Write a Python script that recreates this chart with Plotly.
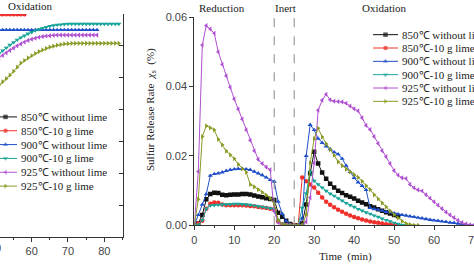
import plotly.graph_objects as go

W, H = 474, 265

# ---------------- data ----------------
series_names = ["850℃ without lime", "850℃-10 g lime", "900℃ without lime",
                "900℃-10 g lime", "925℃ without lime", "925℃-10 g lime"]

# right panel: sulfur release rate (%) sampled every minute from t = 0
rate_850 = [0, 0.0005, 0.003, 0.0075, 0.009, 0.0094, 0.0093, 0.0088, 0.0087, 0.0088, 0.0089,
            0.0089, 0.009, 0.009, 0.0089, 0.0086, 0.0083, 0.0081, 0.0078, 0.0076, 0.0073,
            0.0036, 0.0025, 0.0013, 0.0004, 0, 0,
            0.0005, 0.006, 0.015, 0.0212, 0.0178, 0.0152, 0.0134, 0.012, 0.0109, 0.0100,
            0.0093, 0.0087, 0.0082, 0.0077, 0.0071, 0.0066, 0.0061, 0.0055, 0.0051, 0.0046,
            0.0042, 0.0038, 0.0034, 0.003, 0.0027]
rate_850_lime = [0, 0.0005, 0.0013, 0.0048, 0.0062, 0.0066, 0.0065, 0.006, 0.0058, 0.0058, 0.0058,
                 0.0058, 0.0058, 0.0057, 0.0056, 0.0055, 0.0053, 0.0051, 0.005, 0.0048, 0.0046,
                 0.0012, 0.0003, 0.0001, 0, 0, 0,
                 0.0138, 0.0127, 0.0118, 0.0109, 0.0094, 0.0080, 0.0068, 0.0059, 0.0052, 0.0045,
                 0.0039, 0.0033, 0.0028, 0.0024, 0.0020, 0.0017, 0.0014, 0.0011, 0.0009, 0.0007,
                 0.0005, 0.0003, 0.0002, 0.0001, 0]
rate_900 = [0, 0.003, 0.006, 0.009, 0.0143, 0.0148, 0.015, 0.0153, 0.0157, 0.016, 0.0162,
            0.0163, 0.0163, 0.0162, 0.016, 0.0155, 0.015, 0.0145, 0.0138, 0.0131, 0.0126,
            0.0068, 0.0033, 0.0012, 0.0003, 0, 0,
            0.002, 0.02, 0.029, 0.0275, 0.025, 0.0238, 0.0228, 0.022, 0.0211, 0.0205,
            0.0192, 0.0172, 0.0154, 0.0137, 0.0124, 0.0114, 0.0102, 0.005, 0.0047, 0.0045,
            0.0042, 0.0039, 0.0037, 0.0035, 0.0032, 0.003, 0.0028, 0.0026, 0.0024, 0.0022,
            0.002, 0.0018, 0.0016, 0.0014, 0.0013, 0.0011, 0.001, 0.0008, 0.0007, 0.0005,
            0.0003, 0.0002, 0, 0]
rate_900_lime = [0, 0.0002, 0.0015, 0.0048, 0.0057, 0.0058, 0.0059, 0.006, 0.006, 0.0061, 0.0062,
                 0.0062, 0.0061, 0.006, 0.0059, 0.0057, 0.0055, 0.0053, 0.0051, 0.0049, 0.0047,
                 0.0015, 0.0004, 0.0001, 0, 0, 0,
                 0.005, 0.0092, 0.0155, 0.0128, 0.0118, 0.0109, 0.0099, 0.0091, 0.0085, 0.0078,
                 0.0071, 0.0064, 0.0058, 0.0053, 0.0047, 0.0042, 0.0037, 0.0033, 0.0028, 0.0024,
                 0.0019, 0.0015, 0.0011, 0.0007, 0.0004, 0.0001, 0]
rate_925 = [0, 0.0155, 0.052, 0.0576, 0.0566, 0.0554, 0.050, 0.0464, 0.0431, 0.0398, 0.0364,
            0.0335, 0.0306, 0.0275, 0.0245, 0.0215, 0.019, 0.0178, 0.0168, 0.016, 0.004,
            0.0008, 0.0002, 0, 0, 0, 0, 0,
            0.001, 0.008, 0.018, 0.0332, 0.0361, 0.0378, 0.0362, 0.0358, 0.0357, 0.0356,
            0.0352, 0.0344, 0.0336, 0.033, 0.031, 0.0288, 0.0276, 0.0256, 0.0236, 0.0215,
            0.0198, 0.0178, 0.0158, 0.0145, 0.0137, 0.0135, 0.0118, 0.0108, 0.0102, 0.0099,
            0.0088, 0.0078, 0.0068, 0.0058, 0.0048, 0.0038, 0.003, 0.0022, 0.0014, 0.0008,
            0.0004, 0.0001, 0]
rate_925_lime = [0, 0.0075, 0.0256, 0.0287, 0.0281, 0.0275, 0.0248, 0.0232, 0.0214, 0.0203, 0.0192,
                 0.0176, 0.0163, 0.0153, 0.0118, 0.0111, 0.0103, 0.0095, 0.0087, 0.0078, 0.0062,
                 0.0015, 0.0003, 0, 0, 0, 0, 0,
                 0.003, 0.018, 0.025, 0.028, 0.0255, 0.0235, 0.0218, 0.0202, 0.0183, 0.0172,
                 0.0162, 0.0154, 0.0146, 0.0138, 0.0127, 0.0114, 0.0103, 0.0088, 0.0076, 0.0064,
                 0.0053, 0.0041, 0.0031, 0.0021, 0.0012, 0.0005, 0.0002, 0, 0]

phase_bounds = [20, 25]
phase_labels = ["Reduction", "Inert", "Oxidation"]

# left panel (cropped): cumulative curves, visible part only
left_t_long = list(range(50, 85))
left_t_short = list(range(50, 79))
left_t_red = list(range(50, 59))
cum_850_lime = [0.699] * 9
cum_900 = [0.650] * 29
cum_900_lime = [0.566, 0.576, 0.585, 0.594, 0.603, 0.611, 0.619, 0.626, 0.632, 0.638, 0.643,
                0.648, 0.652, 0.656, 0.659, 0.662, 0.664, 0.666, 0.667, 0.668, 0.669, 0.669,
                0.669, 0.669, 0.669, 0.669, 0.669, 0.669, 0.669, 0.669, 0.669, 0.669, 0.669,
                0.669, 0.669]
cum_925 = [0.555, 0.562, 0.570, 0.578, 0.586, 0.593, 0.600, 0.606, 0.612, 0.617, 0.621,
           0.624, 0.627, 0.629, 0.631, 0.632, 0.633, 0.634, 0.634, 0.634, 0.634, 0.634,
           0.634, 0.634, 0.634, 0.634, 0.634, 0.634, 0.634]
cum_925_lime = [0.470, 0.477, 0.487, 0.497, 0.508, 0.520, 0.533, 0.546, 0.554, 0.562, 0.569,
                0.576, 0.582, 0.587, 0.592, 0.596, 0.599, 0.602, 0.604, 0.606, 0.607, 0.608,
                0.608, 0.608, 0.608, 0.608, 0.608, 0.608, 0.608, 0.608, 0.608, 0.608, 0.608,
                0.608, 0.608]

# ---------------- styles ----------------
colors = ["#111111", "#f0302a", "#2050c8", "#1aa59a", "#b050d0", "#8a9a24"]
symbols = ["square", "circle", "triangle-up", "triangle-down", "triangle-left", "triangle-right"]
SERIF = "Liberation Serif"
SANS = "Liberation Sans"
AX = "#333333"


def px_x(p):
    return p / W


def px_y(p):
    return (H - p) / H


fig = go.Figure()

# right panel
right_series = [rate_850, rate_850_lime, rate_900, rate_900_lime, rate_925, rate_925_lime]
for i, vals in enumerate(right_series):
    fig.add_trace(go.Scatter(
        x=list(range(len(vals))), y=vals, xaxis="x2", yaxis="y2", mode="lines+markers",
        name=series_names[i], showlegend=False,
        line=dict(color=colors[i], width=1),
        marker=dict(symbol=symbols[i], size=4.5, color=colors[i], line=dict(width=0))))

# left panel
left_series = [(1, left_t_red, cum_850_lime), (2, left_t_short, cum_900),
               (3, left_t_long, cum_900_lime), (4, left_t_short, cum_925),
               (5, left_t_long, cum_925_lime)]
for i, xs, vals in left_series:
    fig.add_trace(go.Scatter(
        x=xs, y=vals, xaxis="x", yaxis="y", mode="lines+markers",
        name=series_names[i], showlegend=False,
        line=dict(color=colors[i], width=1),
        marker=dict(symbol=symbols[i], size=4.5, color=colors[i], line=dict(width=0))))

# manual legends (compact rows)
annotations = []
for ax_x, ax_y in [("x5", "y5"), ("x6", "y6")]:
    for i, name in enumerate(series_names):
        fig.add_trace(go.Scatter(
            x=[0, 0.5, 1], y=[i, i, i], xaxis=ax_x, yaxis=ax_y, mode="lines+markers",
            showlegend=False, hoverinfo="skip",
            line=dict(color=colors[i], width=1),
            marker=dict(symbol=symbols[i], size=[0, 4.5, 0], color=colors[i], line=dict(width=0))))
        annotations.append(dict(x=1, y=i, xref=ax_x, yref=ax_y, text=name, showarrow=False,
                                xanchor="left", yanchor="middle", xshift=2,
                                font=dict(family=SERIF, size=11, color="#222")))


def label(x, y, text, font, **kw):
    d = dict(x=px_x(x), y=px_y(y), xref="paper", yref="paper", text=text, showarrow=False,
             xanchor="center", yanchor="middle", font=font)
    d.update(kw)
    return d


label_font = dict(family=SERIF, size=11, color="#222")
annotations += [
    label(222, 8, phase_labels[0], label_font),
    label(285, 8, phase_labels[1], label_font),
    label(384, 8, phase_labels[2], label_font),
    label(30, 6, "Oxidation", label_font),
    label(151, 110, "Sulfur Release Rate&nbsp;&nbsp;<i>χ</i><sub>s</sub>&nbsp;&nbsp;(%)",
          dict(family=SERIF, size=11, color="#222"), textangle=-90),
    label(345, 256, "Time&nbsp;&nbsp;(min)", label_font),
    label(-4.6, 248, "50", dict(family=SANS, size=11, color="#444")),
]

shapes = [dict(type="line", xref="x2", yref="y2 domain", x0=b, x1=b, y0=0, y1=1,
               line=dict(color="#8a8a8a", width=1, dash="dash")) for b in phase_bounds]

tickfont = dict(family=SANS, size=11, color="#444")
common = dict(showgrid=False, zeroline=False, showline=True, linecolor=AX, linewidth=1,
              tickcolor=AX, automargin=False)
base_x = dict(**common, tickfont=tickfont, ticklabeloverflow="allow")

fig.update_layout(
    template="none",
    width=W, height=H, margin=dict(l=0, r=0, t=0, b=0, pad=0, autoexpand=False),
    paper_bgcolor="white", plot_bgcolor="white", showlegend=False,
    annotations=annotations, shapes=shapes,
    # left panel
    xaxis=dict(**base_x, domain=[0, px_x(122.7)], range=[51.27, 85.07], anchor="y",
               tick0=0, dtick=10, ticks="outside", ticklen=4,
               minor=dict(tick0=0, dtick=5, ticks="outside", ticklen=2, tickcolor=AX)),
    yaxis=dict(**common, domain=[px_y(237), px_y(14)], range=[0, 0.7], anchor="x", side="right",
               dtick=0.1, ticks="inside", ticklen=4, showticklabels=False),
    xaxis3=dict(**common, overlaying="x", side="top", anchor="y", range=[51.27, 85.07],
                tick0=0, dtick=10, ticks="inside", ticklen=4, showticklabels=False,
                minor=dict(tick0=0, dtick=5, ticks="inside", ticklen=3, tickcolor=AX)),
    # right panel
    xaxis2=dict(**base_x, domain=[px_x(194.3), 1.0], range=[0, 70], anchor="y2",
                tick0=0, dtick=10, ticks="outside", ticklen=4,
                minor=dict(tick0=0, dtick=5, ticks="outside", ticklen=2, tickcolor=AX)),
    yaxis2=dict(**common, tickfont=tickfont, domain=[px_y(225.3), px_y(17.3)], range=[0, 0.06],
                anchor="x2", dtick=0.02, tickformat=".2f", ticks="outside", ticklen=4),
    xaxis4=dict(**common, overlaying="x2", side="top", anchor="y2", range=[0, 70],
                tick0=0, dtick=10, ticks="inside", ticklen=4, showticklabels=False,
                minor=dict(tick0=0, dtick=5, ticks="inside", ticklen=3, tickcolor=AX)),
    # legend axes
    xaxis5=dict(domain=[px_x(373), px_x(398)], range=[0, 1], visible=False, anchor="y5"),
    yaxis5=dict(domain=[px_y(108), px_y(28)], range=[5.5, -0.5], visible=False, anchor="x5"),
    xaxis6=dict(domain=[0, px_x(17)], range=[0.261, 1], visible=False, anchor="y6"),
    yaxis6=dict(domain=[px_y(193), px_y(110)], range=[5.5, -0.5], visible=False, anchor="x6"),
)

fig.write_html("out.html",
               post_script="document.body.style.margin='0';document.body.style.overflow='hidden';")
